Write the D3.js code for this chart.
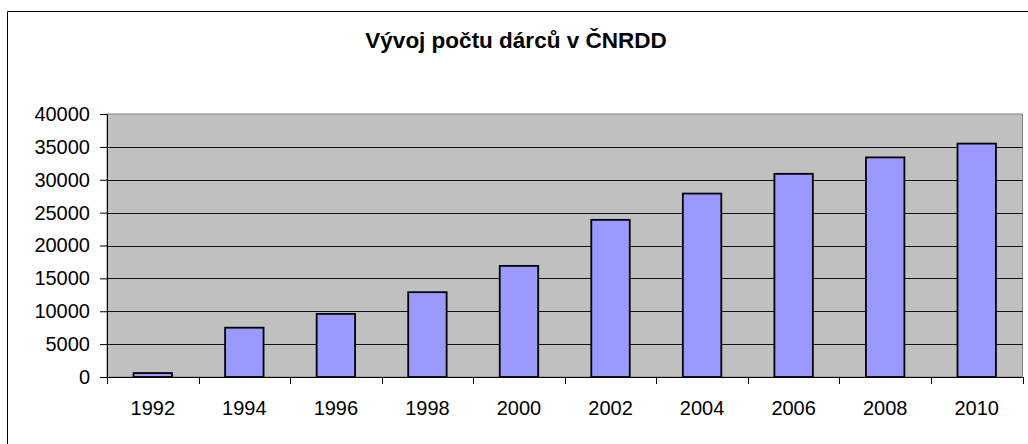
<!DOCTYPE html>
<html>
<head>
<meta charset="utf-8">
<title>Vývoj počtu dárců v ČNRDD</title>
<script src="https://d3js.org/d3.v7.min.js"></script>
<style>
  body { margin: 0; background: white; }
  svg { display: block; font-family: "Liberation Sans", Arial, sans-serif; }
  .tick text { fill: #000; }
</style>
</head>
<body>
<svg id="chart" width="1028" height="444"></svg>
<script>
// data
const years = ["1992", "1994", "1996", "1998", "2000", "2002", "2004", "2006", "2008", "2010"];
const donors = [600, 7500, 9600, 12900, 16900, 23900, 27900, 30900, 33400, 35500];
const yTicks = [0, 5000, 10000, 15000, 20000, 25000, 30000, 35000, 40000];
const title = "Vývoj počtu dárců v ČNRDD";

const svg = d3.select("#chart");
const plotL = 107, plotR = 1022.5, plotT = 114, plotB = 377;

// outer chart frame (only left and top edges are visible)
svg.append("path")
  .attr("d", "M7.5,444 V11.5 H1028")
  .attr("fill", "none").attr("stroke", "#000").attr("stroke-width", 1);

svg.append("text")
  .attr("x", 516).attr("y", 48)
  .attr("text-anchor", "middle")
  .attr("font-weight", "bold")
  .attr("font-size", 22.5)
  .text(title);

const x = d3.scaleBand().domain(years).range([plotL, plotR]).padding(0);
const y = d3.scaleLinear().domain([0, 40000]).range([plotB, plotT]);

// plot area
svg.append("rect")
  .attr("x", plotL).attr("y", plotT)
  .attr("width", plotR - plotL).attr("height", plotB - plotT)
  .attr("fill", "#c0c0c0").attr("stroke", "#808080").attr("stroke-width", 1);

// gridlines
svg.append("g").selectAll("line")
  .data(yTicks.slice(1, -1))
  .join("line")
  .attr("x1", plotL).attr("x2", plotR)
  .attr("y1", d => Math.round(y(d)) + 0.5).attr("y2", d => Math.round(y(d)) + 0.5)
  .attr("stroke", "#111").attr("stroke-width", 1);

// bars
const bw = x.bandwidth() * 0.42;
svg.append("g").selectAll("rect")
  .data(donors)
  .join("rect")
  .attr("x", (d, i) => x(years[i]) + (x.bandwidth() - bw) / 2)
  .attr("y", d => y(d))
  .attr("width", bw)
  .attr("height", d => plotB - y(d))
  .attr("fill", "#9999ff")
  .attr("stroke", "#000").attr("stroke-width", 1.8);

// y axis
const yAxis = svg.append("g")
  .attr("transform", `translate(${plotL},0)`)
  .call(d3.axisLeft(y).tickValues(yTicks).tickSize(7).tickPadding(10).tickFormat(d3.format("d")));
yAxis.selectAll("text").attr("font-size", 20).attr("font-family", "Liberation Sans, Arial, sans-serif");
yAxis.select(".domain").attr("stroke", "#000");
yAxis.selectAll(".tick line").attr("stroke", "#000");

// x axis: labels at category centres, ticks between categories
const xAxis = svg.append("g")
  .attr("transform", `translate(0,${plotB})`)
  .call(d3.axisBottom(x).tickSize(0).tickPadding(24));
xAxis.selectAll("text").attr("font-size", 20).attr("font-family", "Liberation Sans, Arial, sans-serif");
xAxis.select(".domain").attr("stroke", "#000").attr("d", `M${plotL},0.5H${plotR}`);

svg.append("g").selectAll("line")
  .data(years.map(yr => x(yr)).concat([plotR]))
  .join("line")
  .attr("x1", d => Math.round(d) + 0.5).attr("x2", d => Math.round(d) + 0.5)
  .attr("y1", plotB).attr("y2", plotB + 7)
  .attr("stroke", "#000");
</script>
</body>
</html>
